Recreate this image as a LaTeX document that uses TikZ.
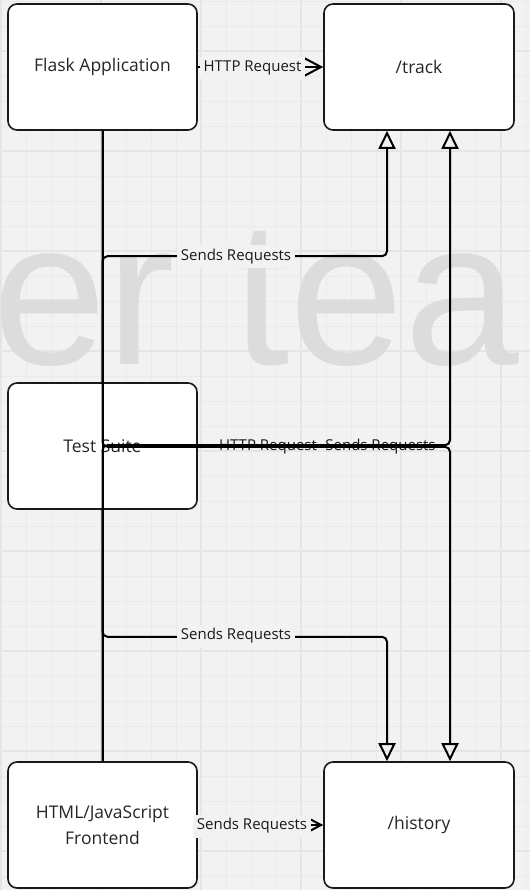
\documentclass[tikz,border=0pt]{standalone}
\usepackage{fontspec}
\setmainfont{Open Sans}
\newfontfamily\markfont{Liberation Sans}
\usepackage{tikz}
\usetikzlibrary{arrows.meta}
\definecolor{paper}{HTML}{F2F2F2}
\definecolor{gridminor}{HTML}{EAEAEA}
\definecolor{gridmajor}{HTML}{E5E5E5}
\definecolor{markgray}{HTML}{DCDCDC}

\begin{document}
\begin{tikzpicture}[x=1pt,y=-1pt,
  box/.style={draw=black!90,line width=1.6pt,fill=white,rounded corners=9pt,
    minimum width=189pt,minimum height=126pt,align=center,text=black!85,
    font=\fontsize{17.5}{26}\selectfont},
  link/.style={draw=black,line width=2pt},
  roundbend/.style={rounded corners=5pt},
  tri/.style={-{Triangle[open,length=18pt,width=17pt]}},
  barb/.style={-{Straight Barb[length=17pt,width=18pt]}},
  lbl/.style={fill=paper,inner sep=4pt,text=black!90,font=\fontsize{15}{18}\selectfont},
  lblplain/.style={inner sep=0pt,text=black!90,font=\fontsize{15}{18}\selectfont}]
%Background
\fill[paper] (0,0) rectangle (530,890);
\useasboundingbox (0,0) rectangle (530,890);
\foreach \x in {1,26,...,526} \draw[gridminor,line width=0.7pt] (\x,0) -- (\x,890);
\foreach \y in {1,26,...,876} \draw[gridminor,line width=0.7pt] (0,\y) -- (530,\y);
\foreach \x in {1,101,...,501} \draw[gridmajor,line width=1.2pt] (\x,0) -- (\x,890);
\foreach \y in {51,151,...,851} \draw[gridmajor,line width=1.2pt] (0,\y) -- (530,\y);
\begin{scope}
\clip (0,0) rectangle (530,890);
\node[anchor=base west,inner sep=0pt,text=markgray,font=\markfont\fontsize{206}{206}\selectfont] (mark) at (-8,364) {er tea};
\end{scope}
%Boxes
\node[box] (flask) at (102.5,67) {Flask Application};
\node[box,minimum width=190pt] (track) at (419,67) {/track};
\node[box] (suite) at (102.5,446) {Test Suite};
\node[box] (front) at (102.5,825) {HTML/JavaScript\\Frontend};
\node[box,minimum width=190pt] (hist) at (419,825) {/history};
\coordinate (t1) at ([xshift=-32pt]track.south);
\coordinate (t2) at ([xshift=31pt]track.south);
\coordinate (h1) at ([xshift=-32pt]hist.north);
\coordinate (h2) at ([xshift=31pt]hist.north);
%Labels under the crossing line
\node[lblplain] (l5) at (268,447) {HTTP Request};
\node[lblplain] (l6) at (380.5,447) {Sends Requests};
%Links
\draw[link] (flask.south) -- (front.north);
\draw[link,tri] (suite.north) [roundbend] -- ++(0,-126) -| (t1) [sharp corners];
\draw[link,tri] (suite.south) [roundbend] -- ++(0,127) -| (h1) [sharp corners];
\draw[link,tri] (flask.south) [roundbend] -- ++(0,316) -| (h2) [sharp corners];
\draw[link,tri] (front.north) [roundbend] -- ++(0,-316) -| (t2) [sharp corners];
\draw[link,barb] (flask.east) -- (track.west);
\draw[link,barb] (front.east) -- (hist.west);
%Text
\node[lbl] (l1) at (236,257) {Sends Requests};
\node[lbl] (l2) at (236,636) {Sends Requests};
\node[lbl] (l3) at (252.5,68) {HTTP Request};
\node[lbl] (l4) at (252,826) {Sends Requests};
\end{tikzpicture}
\end{document}
